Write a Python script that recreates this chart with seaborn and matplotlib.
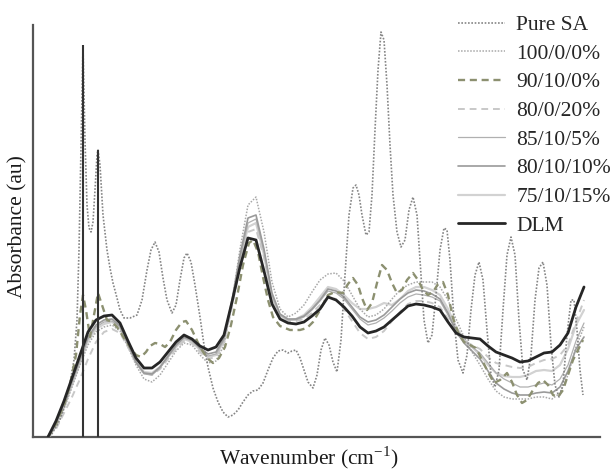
import matplotlib
matplotlib.use("Agg")
import matplotlib.pyplot as plt
import pandas as pd
import seaborn as sns

# ---- spectra (arbitrary position along the wavenumber axis, absorbance in au) ----
position = [48, 56, 64, 72, 80, 88, 96, 104, 112, 120, 128, 136, 144, 152, 160, 168,
            176, 184, 192, 200, 208, 216, 224, 232, 240, 248, 256, 264, 272, 280, 288,
            296, 304, 312, 320, 328, 336, 344, 352, 360, 368, 376, 384, 392, 400, 408,
            416, 424, 432, 440, 448, 456, 464, 472, 480, 488, 496, 504, 512, 520, 528,
            536, 544, 552, 560, 568, 576, 584]

abs_100_0_0 = [0, 10, 28, 50, 72, 92, 105, 110, 112, 106, 90, 72, 58, 55, 62, 74,
               86, 94, 92, 82, 74, 76, 92, 135, 188, 232, 240, 205, 155, 128, 120,
               124, 132, 145, 157, 163, 164, 156, 142, 128, 120, 122, 128, 138, 147, 152,
               155, 155, 155, 150, 137, 118, 100, 85, 72, 58, 46, 40, 38, 38, 38,
               40, 40, 38, 44, 62, 90, 110]

abs_80_0_20 = [0, 8, 24, 40, 58, 78, 95, 105, 108, 104, 90, 74, 64, 62, 68, 78,
               88, 96, 94, 85, 78, 80, 95, 130, 172, 205, 208, 180, 140, 120, 116,
               116, 118, 124, 132, 140, 138, 128, 116, 104, 98, 100, 106, 116, 125, 133,
               136, 136, 134, 130, 118, 104, 96, 92, 88, 80, 74, 72, 70, 69, 70,
               74, 77, 78, 82, 92, 115, 137]

abs_85_10_5 = [0, 13, 32, 54, 76, 98, 110, 115, 116, 110, 92, 74, 63, 62, 69, 80,
               91, 99, 96, 88, 81, 83, 97, 135, 178, 214, 218, 185, 142, 122, 117,
               117, 120, 127, 136, 146, 144, 138, 128, 118, 112, 114, 119, 126, 134, 140,
               143, 142, 140, 136, 122, 106, 96, 90, 84, 74, 64, 58, 54, 50, 50,
               52, 54, 52, 58, 72, 96, 114]

abs_80_10_10 = [0, 14, 34, 56, 78, 100, 112, 117, 118, 111, 93, 75, 64, 63, 70, 81,
                92, 100, 97, 89, 83, 85, 99, 137, 182, 219, 222, 188, 144, 123, 118,
                118, 121, 128, 137, 148, 146, 140, 130, 120, 115, 117, 122, 130, 138, 144,
                147, 146, 143, 138, 124, 106, 94, 86, 78, 66, 54, 48, 44, 42, 42,
                44, 45, 44, 50, 66, 88, 100]

abs_75_10_15 = [0, 12, 30, 52, 74, 96, 108, 113, 115, 109, 92, 75, 65, 64, 70, 80,
                90, 98, 95, 87, 80, 82, 96, 133, 176, 210, 214, 182, 140, 121, 117,
                118, 122, 130, 140, 150, 148, 142, 134, 128, 128, 130, 134, 132, 138, 146,
                150, 150, 147, 142, 128, 110, 98, 90, 82, 72, 64, 61, 60, 60, 62,
                66, 67, 66, 72, 88, 112, 127]

abs_dlm = [0, 16, 36, 59, 82, 105, 117, 121, 122, 114, 96, 79, 69, 69, 75, 85,
           95, 102, 98, 91, 87, 90, 102, 135, 170, 199, 197, 166, 133, 118, 114,
           113, 115, 121, 128, 140, 137, 130, 121, 110, 104, 106, 110, 117, 124, 131,
           133, 132, 130, 127, 115, 104, 100, 99, 98, 91, 85, 82, 79, 75, 76,
           80, 84, 85, 92, 104, 130, 150]

position_90_10_0 = [48, 56, 64, 70, 76, 80, 83, 86, 90, 94, 98, 102, 107, 112, 117, 124,
                    130, 136, 141, 146, 150, 155, 160, 165, 170, 176, 182, 186, 192, 200,
                    207, 213, 219, 225, 231, 237, 243, 249, 253, 258, 263, 268, 273, 280,
                    290, 300, 307, 313, 320, 328, 335, 343, 348, 353, 358, 362, 367, 372,
                    377, 382, 387, 392, 397, 402, 407, 413, 418, 423, 428, 433, 438, 443,
                    448, 453, 458, 464, 470, 476, 482, 488, 494, 500, 507, 512, 517, 522,
                    527, 533, 538, 543, 548, 553, 558, 563, 568, 573, 578, 583]
abs_90_10_0 = [0, 13, 32, 52, 82, 122, 142, 127, 100, 122, 144, 132, 117, 115, 110, 99,
               90, 82, 80, 85, 91, 94, 93, 90, 95, 107, 115, 116, 107, 90,
               79, 74, 79, 90, 112, 140, 172, 194, 197, 185, 160, 137, 120, 111,
               107, 107, 109, 115, 127, 142, 145, 144, 153, 159, 152, 139, 127, 134,
               154, 172, 167, 154, 144, 147, 157, 164, 157, 147, 142, 145, 153, 155,
               142, 119, 105, 95, 92, 89, 77, 65, 54, 57, 64, 55, 42, 34,
               37, 47, 54, 57, 52, 42, 40, 47, 62, 77, 87, 97]

position_sa = [50, 60, 68, 74, 77, 79, 81, 83, 85, 87, 89, 91, 93, 95, 97, 98, 100, 103,
               107, 110, 113, 117, 120, 124, 130, 137, 142, 147, 151, 155, 159, 163, 167,
               172, 176, 180, 184, 187, 191, 195, 200, 204, 208, 213, 218, 223, 228, 233,
               238, 243, 248, 253, 258, 263, 268, 273, 278, 283, 288, 292, 296, 300, 304,
               308, 313, 317, 321, 325, 329, 333, 337, 341, 345, 349, 353, 356, 359, 362,
               366, 369, 372, 375, 378, 381, 384, 387, 390, 393, 397, 401, 405, 409, 413,
               417, 421, 424, 428, 432, 436, 440, 444, 447, 450, 454, 458, 463, 467, 471,
               475, 479, 483, 487, 491, 495, 499, 503, 507, 511, 515, 519, 523, 527, 531,
               535, 539, 543, 547, 551, 555, 559, 563, 567, 571, 574, 577, 580, 583]
abs_pure_sa = [0, 17, 42, 77, 117, 187, 287, 392, 297, 232, 209, 205, 215, 247, 282, 287,
               272, 222, 187, 169, 154, 139, 127, 119, 119, 122, 137, 167, 187, 195, 185,
               159, 137, 124, 132, 157, 179, 184, 175, 152, 120, 92, 70, 49, 35, 25, 20,
               22, 27, 35, 42, 46, 47, 54, 67, 79, 86, 87, 84, 86, 87, 79, 67, 55, 49,
               62, 87, 99, 92, 75, 65, 97, 162, 222, 249, 252, 242, 222, 202, 205, 242,
               307, 367, 405, 397, 352, 292, 242, 205, 190, 197, 227, 240, 222, 162, 117,
               94, 102, 142, 187, 209, 207, 177, 117, 77, 64, 82, 127, 162, 175, 157, 107,
               62, 50, 67, 127, 182, 200, 182, 117, 67, 57, 82, 137, 169, 175, 152, 92,
               52, 40, 52, 102, 137, 137, 107, 67, 42]

# sharp C-H stretching bands of pure SA, marked with drop lines
band_position = [83, 98]
band_height = [392, 287]

series_labels = ["Pure SA", "100/0/0%", "90/10/0%", "80/0/20%",
                 "85/10/5%", "80/10/10%", "75/10/15%", "DLM"]

frames = [
    pd.DataFrame({"position": position_sa, "absorbance": abs_pure_sa, "sample": "Pure SA"}),
    pd.DataFrame({"position": position, "absorbance": abs_100_0_0, "sample": "100/0/0%"}),
    pd.DataFrame({"position": position_90_10_0, "absorbance": abs_90_10_0, "sample": "90/10/0%"}),
    pd.DataFrame({"position": position, "absorbance": abs_80_0_20, "sample": "80/0/20%"}),
    pd.DataFrame({"position": position, "absorbance": abs_85_10_5, "sample": "85/10/5%"}),
    pd.DataFrame({"position": position, "absorbance": abs_80_10_10, "sample": "80/10/10%"}),
    pd.DataFrame({"position": position, "absorbance": abs_75_10_15, "sample": "75/10/15%"}),
    pd.DataFrame({"position": position, "absorbance": abs_dlm, "sample": "DLM"}),
]
spectra = pd.concat(frames, ignore_index=True)

styles = {
    "Pure SA":   dict(color="#858585", lw=1.2, ls=(0, (1, 1)), z=4),
    "100/0/0%":  dict(color="#a8a8a8", lw=1.1, ls=(0, (1, 1)), z=3),
    "90/10/0%":  dict(color="#8c9070", lw=1.7, ls=(0, (3, 2)), z=5),
    "80/0/20%":  dict(color="#c8c8c8", lw=1.4, ls=(0, (3.5, 2.5)), z=3),
    "85/10/5%":  dict(color="#b0b0b0", lw=0.9, ls="-", z=3),
    "80/10/10%": dict(color="#9a9a9a", lw=1.2, ls="-", z=3),
    "75/10/15%": dict(color="#d2d2d2", lw=1.6, ls="-", z=2),
    "DLM":       dict(color="#262626", lw=2.0, ls="-", z=6),
}

sns.set_style("white")
plt.rcParams["font.family"] = ["Liberation Serif", "DejaVu Serif"]
plt.rcParams["mathtext.fontset"] = "custom"
plt.rcParams["mathtext.rm"] = "Liberation Serif"

fig = plt.figure(figsize=(6.13, 4.72), dpi=100)
ax = fig.add_axes([33 / 613, 1 - 437 / 472, 567 / 613, 412 / 472])

for name in series_labels:
    st = styles[name]
    sub = spectra[spectra["sample"] == name]
    sns.lineplot(data=sub, x="position", y="absorbance", ax=ax, sort=False,
                 estimator=None, color=st["color"], linewidth=st["lw"],
                 linestyle=st["ls"], label=name, zorder=st["z"])

ax.vlines(band_position, 0, band_height, colors="#333333", linewidth=1.5, zorder=7)

ax.set_xlim(33, 600)
ax.set_ylim(0, 412)
ax.set_xticks([])
ax.set_yticks([])
ax.set_xlabel("")
ax.set_ylabel("")
for side in ("top", "right"):
    ax.spines[side].set_visible(False)
for side in ("left", "bottom"):
    ax.spines[side].set_color("#555555")
    ax.spines[side].set_linewidth(1.6)

ax.legend(loc="upper left", bbox_to_anchor=(458 / 613, 1 - 15 / 472),
          bbox_transform=fig.transFigure, frameon=False, fontsize=15.5,
          handlelength=2.2, handletextpad=0.5, labelspacing=0.4,
          borderpad=0, borderaxespad=0)

fig.text(18 / 613, 1 - 227 / 472, "Absorbance (au)", rotation=90,
         ha="center", va="center", fontsize=15.5, color="#1a1a1a")
fig.text(309 / 613, 1 - 458 / 472, "Wavenumber (cm$^{\\mathregular{-1}}$)",
         ha="center", va="center", fontsize=15.5, color="#1a1a1a")

fig.savefig("out.png", dpi=100)
